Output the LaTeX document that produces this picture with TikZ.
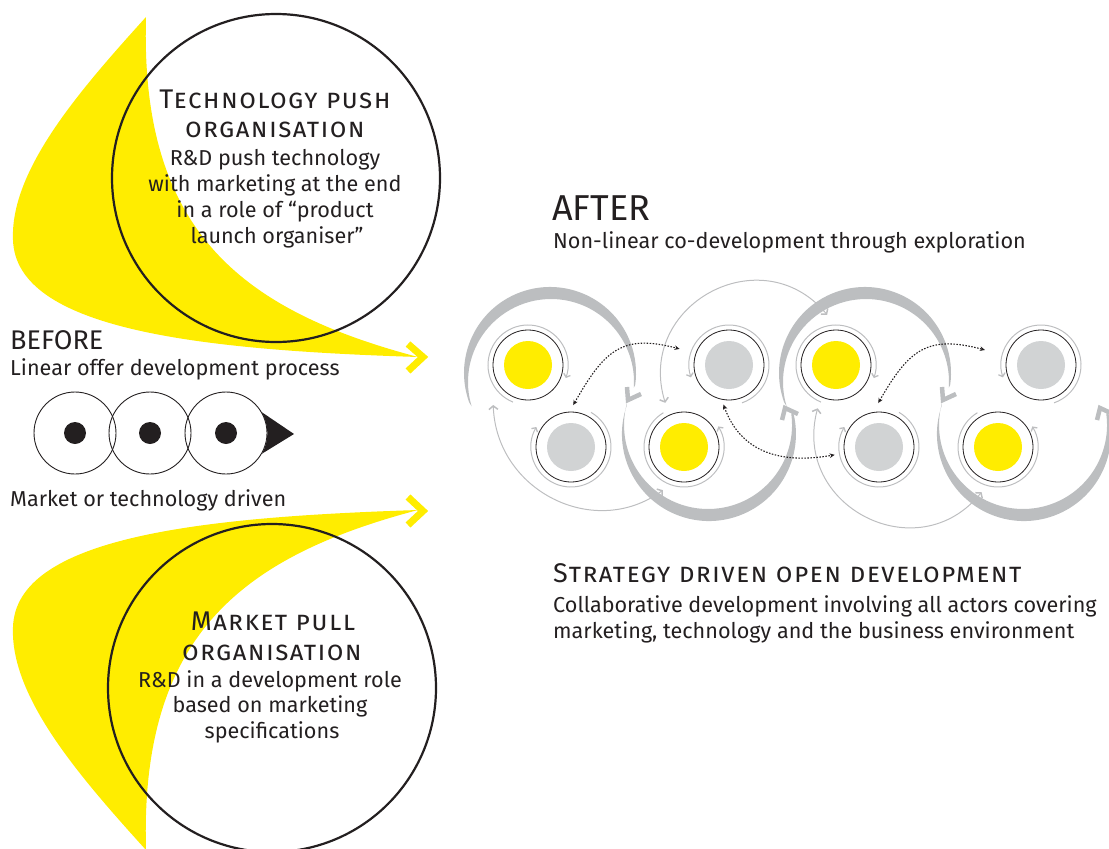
\documentclass[tikz,border=0pt]{standalone}
\usepackage{fontspec}
\setmainfont{Fira Sans}
\usepackage{tikz}
\usetikzlibrary{arrows.meta,calc}
\definecolor{ylw}{HTML}{FFED00}
\definecolor{diskgrey}{HTML}{D1D3D4}
\definecolor{arcgrey}{HTML}{BCBEC0}
\definecolor{thingrey}{HTML}{BDBEC0}
\definecolor{ink}{HTML}{231F20}
\newcommand\bodyfont{\fontsize{21.6}{26}\selectfont}
\newcommand\headfont{\fontsize{27}{29}\selectfont\scshape\addfontfeature{LetterSpace=5}}
\newcommand\beforefont{\fontsize{27}{30}\selectfont}
\newcommand\afterfont{\fontsize{36}{38}\selectfont}

\begin{document}
\begin{tikzpicture}[
	x=1pt, y=1pt,
	every node/.style={text=ink, inner sep=0pt},
	bodytxt/.style={font=\bodyfont, anchor=base},
	lefttxt/.style={font=\bodyfont, anchor=base west},
	headtxt/.style={font=\headfont, anchor=base},
	bigcircle/.style={circle, draw=ink, line width=2.2pt, minimum size=328pt},
	stepcircle/.style={circle, draw=ink, line width=0.9pt, minimum size=82pt},
	cell/.style={circle, draw=ink, line width=0.8pt, minimum size=70pt},
	swoosh/.style={fill=ylw},
	chev/.style={draw=ylw, line width=7pt, line join=miter},
	crescent/.style={fill=arcgrey},
	barb/.style={draw=arcgrey, line width=4.5pt, line join=miter},
	ringarc/.style={draw=thingrey, line width=1pt,
		-{Straight Barb[length=3pt,width=7pt,line width=1.3pt]}},
	link/.style={draw=thingrey, line width=1pt,
		{Straight Barb[length=3.5pt,width=9pt,line width=1.5pt]}-{Straight Barb[length=3.5pt,width=9pt,line width=1.5pt]}},
	dotlink/.style={draw=ink, line width=1.1pt, dash pattern=on 1.5pt off 1.5pt,
		{Stealth[length=5pt,width=4.5pt]}-{Stealth[length=5pt,width=4.5pt]}}
]
\useasboundingbox (0,0) rectangle (1109,-849);

% Yellow swooshes
\fill[swoosh] (146,-17) .. controls (80,-90) and (10,-170) .. (13,-240)
	.. controls (16,-330) and (200,-350) .. (418,-357)
	.. controls (240,-310) and (140,-230) .. (146,-17) -- cycle;
\fill[swoosh] (146,-850) .. controls (80,-777) and (10,-697) .. (13,-627)
	.. controls (16,-537) and (200,-517) .. (418,-510)
	.. controls (240,-557) and (140,-637) .. (146,-850) -- cycle;
\draw[chev] (408,-344) -- (423,-357) -- (408,-371);
\draw[chev] (408,-497) -- (423,-511) -- (408,-525);

% Organisations
\node[bigcircle] (push) at (276,-178) {};
\node[bigcircle] (pull) at (272,-688) {};

\node[headtxt] (push1) at (275,-108) {Technology push};
\node[headtxt] (push2) at (275,-137) {organisation};
\node[bodytxt] (push3) at (275,-165) {R\&D push technology};
\node[bodytxt] (push4) at (275,-191) {with marketing at the end};
\node[bodytxt] (push5) at (275,-217) {in a role of “product};
\node[bodytxt] (push6) at (277,-243) {launch organiser”};

\node[headtxt] (pull1) at (273,-630) {Market pull};
\node[headtxt] (pull2) at (272,-660) {organisation};
\node[bodytxt] (pull3) at (270,-687) {R\&D in a development role};
\node[bodytxt] (pull4) at (270,-712) {based on marketing};
\node[bodytxt] (pull5) at (272,-738) {specifications};

% Before
\node[lefttxt, font=\beforefont] (before) at (10,-349) {BEFORE};
\node[lefttxt] (beforesub) at (10,-375) {Linear offer development process};
\node[lefttxt] (driven) at (10,-506) {Market or technology driven};

\node[stepcircle] (s1) at (75,-433) {};
\node[stepcircle] (s2) at (150,-433) {};
\node[stepcircle] (s3) at (226,-433) {};
\foreach \s in {s1,s2,s3} \fill[ink] (\s.center) circle[radius=11];
\coordinate (tip) at (294,-434);
\fill[ink] (s3.30) -- (tip) -- (s3.-30) arc[start angle=-30,end angle=30,radius=41] -- cycle;

% After
\node[lefttxt, font=\afterfont] (after) at (552,-220) {AFTER};
\node[lefttxt] (aftersub) at (553,-248) {Non-linear co-development through exploration};
\node[lefttxt, font=\headfont] (open) at (553,-582) {Strategy driven open development};
\node[lefttxt] (open1) at (553,-612) {Collaborative development involving all actors covering};
\node[lefttxt] (open2) at (553,-638) {marketing, technology and the business environment};

% Crescents
\foreach \dx in {0,315} {
	\fill[crescent, xshift=\dx] (469.2,-402.4) arc[start angle=200,end angle=-8,radius=86]
		-- (633.8,-387.8) arc[start angle=-4,end angle=197,radius=83] -- cycle;
	\fill[crescent, xshift=\dx] (626.7,-405.7) arc[start angle=161,end angle=373,radius=87]
		-- (791.2,-413.3) arc[start angle=368,end angle=165,radius=84] -- cycle;
	\draw[barb, xshift=\dx] (627,-387) -- (628,-400) -- (641,-394);
	\draw[barb, xshift=\dx] (782,-420) -- (785,-408) -- (798,-414);
}

% Cells
\foreach \n/\x/\y/\c in {TY1/528/365/ylw, BG1/571/447/diskgrey, BY2/684/447/ylw,
	TG2/729/365/diskgrey, TY3/836/365/ylw, BG3/879/447/diskgrey,
	BY4/998/447/ylw, TG4/1041/365/diskgrey} {
	\node[cell] (\n) at (\x,-\y) {};
	\fill[\c] (\n.center) circle[radius=24];
}
\foreach \n/\a/\b in {TY1/248/-19, BG1/60/-210, BY2/121/391, TG2/-71/198,
	TY3/248/-19, BG3/60/-210, BY4/121/391, TG4/-71/198}
	\draw[ringarc] (\n.center) ++(\a:40) arc[start angle=\a,end angle=\b,radius=40];

% Links
\draw[link] ($(TY1)+(229:53)$) to[out=272,in=216,looseness=1.15] ($(BY2)+(244:48)$);
\draw[link] ($(BY2)+(113:48)$) to[out=107,in=130,looseness=1.42] ($(TY3)+(100:51)$);
\draw[link] ($(TY3)+(247:47)$) to[out=255,in=231,looseness=1.41] ($(BY4)+(250:48)$);

\draw[dotlink] ($(BG1)+(87:42)$) to[out=60,in=165,looseness=1.3] ($(TG2)+(162:52)$);
\draw[dotlink] ($(TG2)+(262:40)$) to[out=-70,in=190,looseness=1.1] ($(BG3)+(190:45)$);
\draw[dotlink] ($(BG3)+(91:44)$) to[out=60,in=165,looseness=1.3] ($(TG4)+(165:58)$);

\end{tikzpicture}
\end{document}
